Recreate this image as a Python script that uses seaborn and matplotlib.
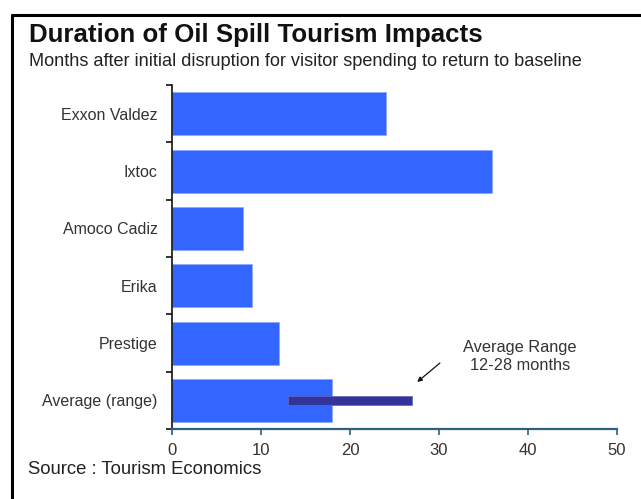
import matplotlib
matplotlib.use("Agg")
import matplotlib.pyplot as plt
from matplotlib.lines import Line2D
from matplotlib.ticker import FixedLocator
import seaborn as sns
import pandas as pd

categories = ["Exxon Valdez", "Ixtoc", "Amoco Cadiz", "Erika", "Prestige", "Average (range)"]
months = [24, 36, 8, 9, 12, 18]
range_low = 13
range_high = 27
x_ticks = [0, 10, 20, 30, 40, 50]

sns.set_theme(style="white")
plt.rcParams["font.family"] = ["Liberation Sans", "DejaVu Sans"]

df = pd.DataFrame({"category": categories, "months": months})

fig = plt.figure(figsize=(6.41, 4.99), dpi=100)
ax = fig.add_axes([172 / 641, 1 - 429 / 499, (617 - 172) / 641, (429 - 85) / 499])

sns.barplot(data=df, x="months", y="category", orient="h", color="#3366FF",
            saturation=1, width=0.75, edgecolor="#8FA8FF", linewidth=0.6, ax=ax)

ax.barh(y=len(categories) - 1, width=range_high - range_low, left=range_low,
        height=0.165, color="#333399", edgecolor="#6666BB", linewidth=0.5, zorder=3)

ax.set_xlim(0, 50)
ax.set_ylim(len(categories) - 0.5, -0.5)
ax.xaxis.set_major_locator(FixedLocator(x_ticks))
ax.set_xlabel("")
ax.set_ylabel("")

for s in ["top", "right"]:
    ax.spines[s].set_visible(False)
ax.spines["left"].set_color("#111111")
ax.spines["left"].set_linewidth(1.2)
ax.spines["bottom"].set_color("#2F5F7F")
ax.spines["bottom"].set_linewidth(1.6)

ax.tick_params(axis="x", which="major", direction="out", length=4, width=1.2,
               color="#2F5F7F", labelsize=12, labelcolor="#333333", pad=6, bottom=True)
ax.tick_params(axis="y", which="major", length=0, labelsize=11.5, labelcolor="#333333", pad=10.5)
ax.yaxis.set_minor_locator(FixedLocator([i - 0.5 for i in range(len(categories) + 1)]))
ax.tick_params(axis="y", which="minor", direction="out", length=4, width=1.2, color="#111111", left=True)

# title block
fig.text(29 / 641, 1 - 35 / 499, "Duration of Oil Spill Tourism Impacts", fontsize=18.6,
         fontweight="bold", color="#111111", va="center", ha="left")
fig.text(29 / 641, 1 - 62 / 499,
         "Months after initial disruption for visitor spending to return to baseline",
         fontsize=13.1, color="#222222", va="center", ha="left")
fig.text(28 / 641, 1 - 469 / 499, "Source : Tourism Economics", fontsize=13.3,
         color="#222222", va="center", ha="left")

# annotation
ax.text(39.1, 4.24, "Average Range\n12-28 months", fontsize=11.8, color="#333333",
        ha="center", va="center", linespacing=1.25)
ax.annotate("", xy=(27.55, 4.68), xytext=(30.1, 4.35),
            arrowprops=dict(arrowstyle="-|>", color="#111111", lw=0.9,
                            mutation_scale=7, shrinkA=0, shrinkB=0))

# outer frame (left and top edges)
fig.add_artist(Line2D([12 / 641, 12 / 641], [0, 1 - 15 / 499], transform=fig.transFigure,
                      color="black", lw=2.2))
fig.add_artist(Line2D([12 / 641, 1], [1 - 15 / 499, 1 - 15 / 499], transform=fig.transFigure,
                      color="black", lw=2.2))

fig.savefig("out.png", dpi=100, facecolor="white")
